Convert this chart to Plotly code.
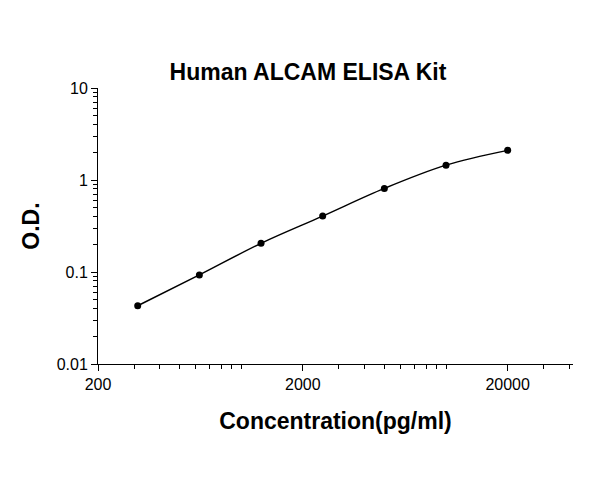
import plotly.graph_objects as go

conc = [312.5, 625, 1250, 2500, 5000, 10000, 20000]
od = [0.043, 0.093, 0.205, 0.405, 0.81, 1.45, 2.1]

fig = go.Figure()
fig.add_trace(go.Scatter(x=conc, y=od, mode="lines+markers",
                         line=dict(color="black", width=1.5, shape="spline"),
                         marker=dict(color="black", size=7)))
axis_font = dict(family="Arial, Liberation Sans", size=16, color="black")
big = dict(family="Arial, Liberation Sans", size=23, color="black")
fig.update_layout(
    width=600, height=486,
    paper_bgcolor="white", plot_bgcolor="white",
    margin=dict(l=90, r=35, t=80, b=130),
    showlegend=False,
    title=dict(text="<b>Human ALCAM ELISA Kit</b>", x=0.5, xanchor="center", y=0.885, font=big),
    xaxis=dict(type="log", range=[2.30103, 4.62], showgrid=False, zeroline=False,
               showline=True, linecolor="black", linewidth=1,
               tickvals=[200, 2000, 20000], ticktext=["200", "2000", "20000"],
               ticks="outside", ticklen=6, tickcolor="black", tickfont=axis_font,
               minor=dict(ticks="outside", ticklen=4, tickcolor="black", dtick="D1"),
               title=dict(text="<b>Concentration(pg/ml)</b>", standoff=20, font=big)),
    yaxis=dict(type="log", range=[-2, 1], showgrid=False, zeroline=False,
               showline=True, linecolor="black", linewidth=1,
               tickvals=[0.01, 0.1, 1, 10], ticktext=["0.01", "0.1", "1", "10"],
               ticks="outside", ticklen=6, tickcolor="black", tickfont=axis_font,
               minor=dict(ticks="outside", ticklen=4, tickcolor="black", dtick="D1"),
               title=dict(text="<b>O.D.</b>", standoff=10, font=big)),
)
fig.write_html("out.html")
